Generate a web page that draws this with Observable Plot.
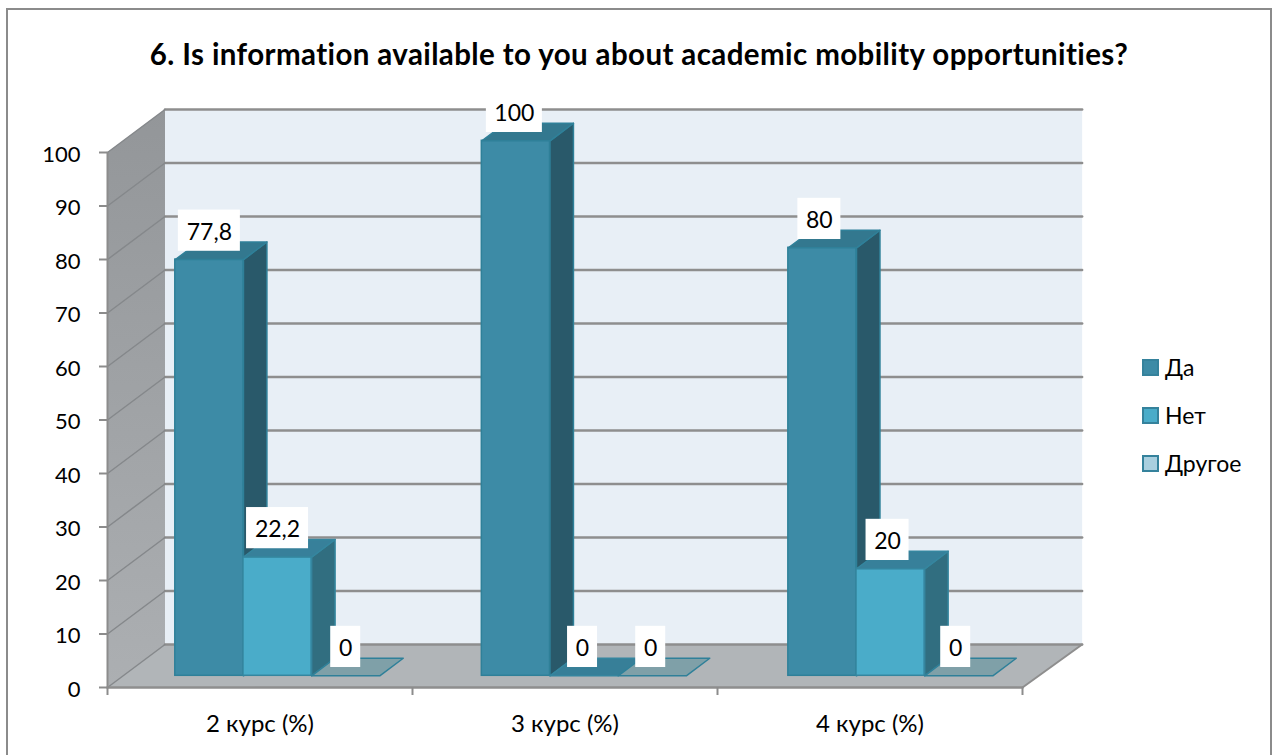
<!DOCTYPE html>
<html>
<head>
<meta charset="utf-8">
<script src="https://cdn.jsdelivr.net/npm/d3@7"></script>
<script src="https://cdn.jsdelivr.net/npm/@observablehq/plot@0.6"></script>
<style>
html,body{margin:0;padding:0;background:#fff;overflow:hidden}
#page{position:relative;width:1275px;height:755px;overflow:hidden;font-family:Lato,"Open Sans",sans-serif;color:#000}
#frame{position:absolute;left:6px;top:8px;width:1266px;height:770px;border:2px solid #8b8b8b;box-sizing:border-box}
#title{position:absolute;left:0;top:36px;width:1278px;text-align:center;font-weight:700;font-size:29.5px;letter-spacing:.39px;line-height:36px;white-space:nowrap}
#legend{position:absolute;left:1142px;top:0}
.li{position:absolute;left:0;display:flex;align-items:center;font-size:23px;height:20px;white-space:nowrap}
.sw{width:17px;height:17px;box-sizing:border-box;border:2px solid #35829c;margin-right:6px;flex:none}
#chart{position:absolute;left:0;top:0}
#chart svg{background:transparent;overflow:visible}
</style>
</head>
<body>
<div id="page">
  <div id="frame"></div>
  <div id="title"></div>
  <div id="chart"></div>
  <div id="legend"></div>
</div>
<script>
const titleText = "6. Is information available to you about academic mobility opportunities?";
const courses = ["2 курс (%)", "3 курс (%)", "4 курс (%)"];
const seriesNames = ["Да", "Нет", "Другое"];
const yes = [77.8, 100, 80];
const no = [22.2, 0, 20];
const other = [0, 0, 0];
const yTicks = [0, 10, 20, 30, 40, 50, 60, 70, 80, 90, 100];

const seriesValues = [yes, no, other];
const legendColors = ["#3d8ba6", "#4aacc9", "#a9cfdf"];
const faces = [
  {front: "#3d8ba6", side: "#29596a", top: "#33788f", stroke: "#2f8099", flat: "#377f98"},
  {front: "#4aacc9", side: "#316e80", top: "#37809a", stroke: "#35869f", flat: "#377f98"},
  {front: "#a9cfdf", side: "#5e8a99", top: "#7fa0a8", stroke: "#2f8099", flat: "#7fa0a8"}
];

// oblique projection: depth d (0 front, 1 back wall) in axis units
const DX = 0.1885, DY = 8.04, WALL_RIGHT = 3.007;
const BAR_D0 = 0.272, BAR_D1 = 0.68, BAR_W = 0.2235, BAR_OFF = 0.171, PITCH = 1.005;
const p = (x, v, d) => ({x: x + d * DX, y: v + d * DY});
const GRID = "#8c8c8c";

const poly = (pts, fill, stroke = "none", strokeWidth = 1.5) =>
  Plot.line(pts, {x: "x", y: "y", fill, stroke, strokeWidth, curve: "linear-closed"});
const seg = (pts, stroke = GRID, strokeWidth = 2) =>
  Plot.line(pts, {x: "x", y: "y", stroke, strokeWidth});

const wallDefs = () => {
  const defs = d3.create("svg:defs");
  const g = defs.append("linearGradient").attr("id", "wallGrad").attr("x1", 0).attr("x2", 0).attr("y1", 0).attr("y2", 1);
  g.append("stop").attr("offset", "0%").attr("stop-color", "#939699");
  g.append("stop").attr("offset", "100%").attr("stop-color", "#acafb2");
  return defs.node();
};

// Walls and floor
const marks = [
  wallDefs,
  poly([p(0, 0, 1), p(0, 100, 1), p(WALL_RIGHT, 100, 1), p(WALL_RIGHT, 0, 1)], "#e8eff6"),
  poly([p(0, 0, 0), p(0, 100, 0), p(0, 100, 1), p(0, 0, 1)], "url(#wallGrad)"),
  poly([p(0, 0, 0), p(3, 0, 0), p(WALL_RIGHT, 0, 1), p(0, 0, 1)], "#b1b5b8")
];
for (const v of yTicks) {
  marks.push(seg([p(0, v, 1), p(WALL_RIGHT, v, 1)], "#8e8e8e", 2.5));
  marks.push(seg([p(0, v, 0), p(0, v, 1)], "#85888b", 1.5));
}
marks.push(seg([p(3, 0, 0), p(WALL_RIGHT, 0, 1)], "#8e8e8e", 2));
marks.push(seg([p(0, 0, 0), p(3, 0, 0)], "#8e8e8e", 2.5));

// Bars, left to right
const labels = [];
courses.forEach((c, ci) => {
  seriesValues.forEach((vals, si) => {
    const v = vals[ci], f = faces[si];
    const x0 = ci * PITCH + BAR_OFF + si * BAR_W, x1 = x0 + BAR_W;
    if (v > 0) {
      marks.push(Plot.rect([{x1: x0 + BAR_D0 * DX, x2: x1 + BAR_D0 * DX, y1: BAR_D0 * DY, y2: v + BAR_D0 * DY}],
        {x1: "x1", x2: "x2", y1: "y1", y2: "y2", fill: f.front, stroke: f.stroke, strokeWidth: 1.5}));
      marks.push(poly([p(x1, 0, BAR_D0), p(x1, v, BAR_D0), p(x1, v, BAR_D1), p(x1, 0, BAR_D1)], f.side, f.stroke));
      marks.push(poly([p(x0, v, BAR_D0), p(x1, v, BAR_D0), p(x1, v, BAR_D1), p(x0, v, BAR_D1)], f.top, f.stroke));
    } else {
      marks.push(poly([p(x0, 0, BAR_D0), p(x1, 0, BAR_D0), p(x1, 0, BAR_D1), p(x0, 0, BAR_D1)], f.flat, f.stroke));
    }
    const text = String(v).replace(".", ",");
    const q = p(ci + BAR_OFF + si * BAR_W + BAR_W / 2, v, BAR_D0);
    labels.push({text, x: q.x, y: q.y + 5.4,
      w: (17 + 13 * text.replace(",", "").length + (text.includes(",") ? 6 : 0)) / 305});
  });
});

// Data labels on white boxes
marks.push(Plot.rect(labels, {x1: d => d.x - d.w / 2, x2: d => d.x + d.w / 2,
  y1: d => d.y - 3.85, y2: d => d.y + 3.85, fill: "#fff"}));
marks.push(Plot.text(labels, {x: "x", y: "y", text: "text", fill: "#000", fontSize: 23, dy: 1.5}));

// Axes
marks.push(Plot.axisY({ticks: yTicks, tickSize: 8, anchor: "left", label: null,
  stroke: GRID, strokeWidth: 2, tickFormat: () => ""}));
marks.push(Plot.axisY({ticks: yTicks, tickSize: 0, tickPadding: 27, anchor: "left", label: null,
  fill: "#000", fontSize: 22, dy: 2, tickFormat: d => String(d)}));
marks.push(Plot.axisX({ticks: [0, 1, 2, 3], tickSize: 8, anchor: "bottom", label: null,
  stroke: GRID, strokeWidth: 2, tickFormat: () => ""}));
marks.push(Plot.axisX({ticks: [0.5, 1.5, 2.5], tickSize: 0, tickPadding: 27, anchor: "bottom", label: null,
  fill: "#000", fontSize: 24, tickFormat: d => courses[Math.floor(d)]}));
marks.push(seg([p(0, 0, 0), p(0, 100, 0)], GRID, 2));

const chart = Plot.plot({
  width: 1275, height: 755,
  marginLeft: 107, marginRight: 253, marginTop: 152, marginBottom: 68,
  style: {fontFamily: 'Lato,"Open Sans",sans-serif', background: "transparent"},
  x: {domain: [0, 3], axis: null},
  y: {domain: [0, 100], axis: null},
  marks
});
document.getElementById("chart").append(chart);
document.getElementById("title").textContent = titleText;

const legend = document.getElementById("legend");
seriesNames.forEach((name, i) => {
  const item = document.createElement("div");
  item.className = "li";
  item.style.top = (357 + i * 48) + "px";
  const sw = document.createElement("span");
  sw.className = "sw";
  sw.style.background = legendColors[i];
  item.append(sw, document.createTextNode(name));
  legend.append(item);
});
</script>
</body>
</html>
